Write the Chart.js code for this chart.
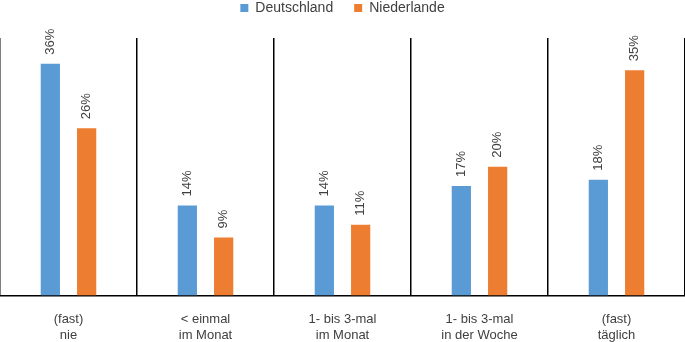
<!DOCTYPE html>
<html>
<head>
<meta charset="utf-8">
<script src="https://cdn.jsdelivr.net/npm/chart.js@4"></script>
<style>
  body { margin: 0; background: #fff; }
  #chart { display: block; }
</style>
</head>
<body>
<canvas id="chart" width="685" height="342"></canvas>
<script>
let kategorien = [
    ["(fast)", "nie"],
    ["< einmal", "im Monat"],
    ["1- bis 3-mal", "im Monat"],
    ["1- bis 3-mal", "in der Woche"],
    ["(fast)", "täglich"]
];
let deutschland = [36, 14, 14, 17, 18];
let niederlande = [26, 9, 11, 20, 35];

// Prozentwerte senkrecht über die Balken schreiben
const wertLabels = {
    id: 'wertLabels',
    afterDatasetsDraw(chart) {
        const ctx = chart.ctx;
        ctx.save();
        ctx.font = '13px "Liberation Sans"';
        ctx.fillStyle = '#404040';
        ctx.textAlign = 'left';
        ctx.textBaseline = 'middle';
        chart.data.datasets.forEach((ds, i) => {
            chart.getDatasetMeta(i).data.forEach((bar, j) => {
                ctx.save();
                ctx.translate(bar.x, bar.y - 9);
                ctx.rotate(-Math.PI / 2);
                ctx.fillText(ds.data[j] + '%', 0, 0);
                ctx.restore();
            });
        });
        ctx.restore();
    }
};

new Chart(document.getElementById("chart"), {
    type: 'bar',
    data: {
        labels: kategorien,
        datasets: [{
            data: deutschland,
            label: "Deutschland",
            backgroundColor: '#5B9BD5',
            categoryPercentage: 0.53,
            barPercentage: 0.53
        }, {
            data: niederlande,
            label: "Niederlande",
            backgroundColor: '#ED7D31',
            categoryPercentage: 0.53,
            barPercentage: 0.53
        }]
    },
    options: {
        responsive: false,
        animation: false,
        layout: { padding: { top: -20, bottom: -18, left: 0, right: 0 } },
        plugins: {
            tooltip: { enabled: false },
            legend: {
                position: 'top',
                labels: {
                    boxWidth: 8,
                    boxHeight: 8,
                    padding: 21,
                    color: '#404040',
                    font: { family: '"Liberation Sans"', size: 14 }
                }
            },
            // leerer Abstand zwischen Legende und Diagramm
            subtitle: {
                display: true,
                text: '',
                position: 'top',
                weight: 500,
                padding: 0,
                font: { size: 10, lineHeight: 1.3 }
            }
        },
        scales: {
            x: {
                grid: {
                    display: true,
                    offset: true,
                    color: '#000',
                    lineWidth: 1.5,
                    drawTicks: false
                },
                border: { display: true, color: '#000', width: 1.5 },
                ticks: {
                    padding: 16,
                    color: '#404040',
                    maxRotation: 0,
                    font: { family: '"Liberation Sans"', size: 13, lineHeight: 1.25 }
                }
            },
            y: {
                display: false,
                min: 0,
                max: 40
            }
        }
    },
    plugins: [wertLabels]
});
</script>
</body>
</html>
